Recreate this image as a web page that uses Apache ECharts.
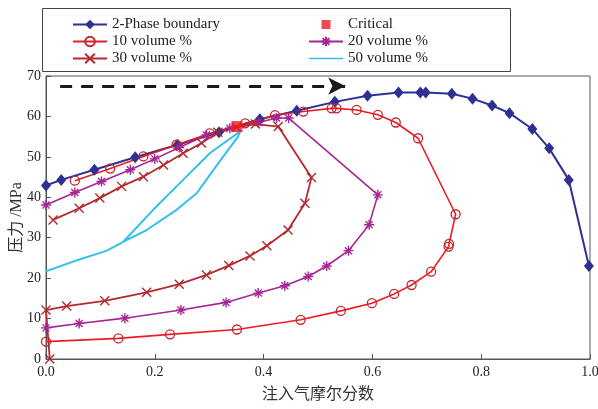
<!DOCTYPE html>
<html>
<head>
<meta charset="utf-8">
<script src="https://cdn.jsdelivr.net/npm/echarts@6/dist/echarts.min.js"></script>
<style>
  html, body { margin: 0; padding: 0; background: #fff; }
  #main { width: 598px; height: 409px; }
</style>
</head>
<body>
<div id="main"></div>
<script>
// 两相边界
var boundaryX = [0, 0.028, 0.089, 0.164, 0.242, 0.318, 0.393, 0.461, 0.531, 0.591, 0.648, 0.688, 0.698, 0.746, 0.784, 0.82, 0.852, 0.894, 0.925, 0.961, 0.998];
var boundaryY = [42.9, 44.3, 46.8, 49.9, 53.0, 56.1, 59.3, 61.4, 63.6, 65.1, 65.9, 65.9, 65.9, 65.6, 64.4, 62.7, 60.8, 56.9, 52.1, 44.3, 23.0];

// 临界点
var criticalX = [0.351];
var criticalY = [57.5];

// 10 volume %
var vol10X = [0, 0.133, 0.228, 0.351, 0.468, 0.542, 0.599, 0.64, 0.672, 0.708, 0.74, 0.741, 0.753, 0.684, 0.643, 0.61, 0.571, 0.534, 0.525, 0.473, 0.421, 0.366, 0.301, 0.24, 0.179, 0.118, 0.053];
var vol10Y = [4.3, 5.1, 6.1, 7.3, 9.7, 11.9, 13.8, 16.1, 18.3, 21.6, 27.8, 28.5, 35.8, 54.6, 58.5, 60.4, 61.6, 62.0, 62.0, 61.2, 60.3, 58.3, 55.8, 53.0, 50.1, 47.1, 44.1];

// 20 volume %
var vol20X = [0, 0.061, 0.145, 0.248, 0.331, 0.39, 0.439, 0.482, 0.516, 0.556, 0.594, 0.61, 0.446, 0.424, 0.39, 0.338, 0.295, 0.245, 0.2, 0.155, 0.102, 0.053, 0];
var vol20Y = [7.7, 8.8, 10.1, 12.1, 14.0, 16.3, 18.1, 20.4, 23.0, 26.8, 33.2, 40.6, 59.6, 59.6, 58.5, 57.1, 55.4, 52.3, 49.5, 46.8, 43.9, 41.2, 38.1];

// 30 volume %
var vol30X = [0.007, 0, 0.038, 0.108, 0.185, 0.245, 0.295, 0.336, 0.375, 0.406, 0.445, 0.476, 0.488, 0.427, 0.385, 0.35, 0.316, 0.286, 0.252, 0.216, 0.179, 0.139, 0.099, 0.061, 0.013];
var vol30Y = [0, 12.1, 13.1, 14.4, 16.5, 18.5, 20.8, 23.1, 25.5, 28.0, 31.9, 38.5, 44.9, 57.5, 58.1, 57.3, 56.1, 53.4, 50.9, 48.0, 45.1, 42.7, 39.8, 37.3, 34.4];

// 50 volume %（无标记）
var vol50X = [0, 0.05, 0.112, 0.142, 0.197, 0.252, 0.301, 0.357, 0.353, 0.326, 0.301, 0.277, 0.24, 0.185, 0.142];
var vol50Y = [21.7, 24.1, 26.8, 29.0, 36.9, 44.3, 50.9, 56.3, 55.0, 50.1, 45.5, 41.0, 36.9, 31.9, 29.0];

// 虚线箭头
var arrowX = [0.026, 0.55];
var arrowY = [67.5, 67.5];

function pairs(xs, ys) {
  var res = [];
  for (var i = 0; i < xs.length; i++) {
    res.push([xs[i], ys[i]]);
  }
  return res;
}

var serif = 'Liberation Serif';
var starPath = 'path://M0 5 L10 5 M5 0 L5 10 M1.5 1.5 L8.5 8.5 M1.5 8.5 L8.5 1.5';
var crossPath = 'path://M0 0 L10 10 M0 10 L10 0';
var squareIcon = 'path://M0 0 M1.5 1.5 L10.5 1.5 L10.5 10.5 L1.5 10.5 Z M12 12';
var lineIcon = 'path://M0 0 M0 5.2 L34 5.2 L34 6.8 L0 6.8 Z M34 12';

var legendText = { fontFamily: serif, fontSize: 15, color: '#222' };

var option = {
  animation: false,
  backgroundColor: '#fff',
  grid: {
    left: 46, right: 8, top: 76, bottom: 50,
    outerBoundsMode: 'none', containLabel: false,
    show: true, borderColor: '#555', borderWidth: 1
  },
  legend: [
    {
      orient: 'vertical', left: 72, top: 17, padding: 0,
      itemWidth: 34, itemHeight: 12, itemGap: 2,
      textStyle: legendText,
      data: ['2-Phase boundary', '10 volume %', '30 volume %']
    },
    {
      orient: 'vertical', left: 308, top: 17, padding: 0,
      itemWidth: 34, itemHeight: 12, itemGap: 2,
      textStyle: legendText,
      data: [{ name: 'Critical', icon: squareIcon }, '20 volume %', { name: '50 volume %', icon: lineIcon }]
    }
  ],
  graphic: [
    {
      type: 'rect', left: 40, top: 6, z: -1,
      shape: { width: 468, height: 63 },
      style: { fill: 'none', stroke: '#444', lineWidth: 1 }
    }
  ],
  xAxis: {
    type: 'value', min: 0, max: 1, interval: 0.2,
    name: '注入气摩尔分数', nameLocation: 'middle', nameGap: 26,
    nameTextStyle: { fontFamily: 'Noto Sans CJK SC', fontSize: 16, color: '#333' },
    axisLine: { lineStyle: { color: '#555' } },
    axisTick: { inside: true, length: 5, lineStyle: { color: '#555' } },
    splitLine: { show: false },
    axisLabel: {
      fontFamily: serif, fontSize: 14, color: '#222', margin: 6,
      formatter: function(v) { return v.toFixed(1); }
    }
  },
  yAxis: {
    type: 'value', min: 0, max: 70, interval: 10,
    name: '压力 /MPa', nameLocation: 'middle', nameGap: 21, nameMoveOverlap: false,
    nameTextStyle: { fontFamily: 'Liberation Serif, Noto Sans CJK SC', fontSize: 16, color: '#333' },
    axisLine: { show: true, lineStyle: { color: '#555' } },
    axisTick: { show: true, inside: true, length: 5, lineStyle: { color: '#555' } },
    splitLine: { show: false },
    axisLabel: { fontFamily: serif, fontSize: 14, color: '#222', margin: 5 }
  },
  series: [
    {
      name: '2-Phase boundary', type: 'line',
      data: pairs(boundaryX, boundaryY),
      symbol: 'diamond', symbolSize: [10, 12],
      lineStyle: { color: '#2e3192', width: 2 },
      itemStyle: { color: '#2e3192' }
    },
    {
      name: '10 volume %', type: 'line',
      data: pairs(vol10X, vol10Y),
      symbol: 'circle', symbolSize: 9,
      lineStyle: { color: '#ed1c24', width: 1.6 },
      itemStyle: { color: 'rgba(0,0,0,0)', borderColor: '#c1272d', borderWidth: 1.3 }
    },
    {
      name: '20 volume %', type: 'line',
      data: pairs(vol20X, vol20Y),
      symbol: starPath, symbolSize: 10,
      lineStyle: { color: '#a62694', width: 1.6 },
      itemStyle: { color: '#a62694', borderColor: '#a62694', borderWidth: 1.4 }
    },
    {
      name: '30 volume %', type: 'line',
      data: pairs(vol30X, vol30Y),
      symbol: crossPath, symbolSize: 9,
      lineStyle: { color: '#b2292e', width: 1.8 },
      itemStyle: { color: '#b2292e', borderColor: '#b2292e', borderWidth: 1.4 }
    },
    {
      name: '50 volume %', type: 'line',
      data: pairs(vol50X, vol50Y),
      showSymbol: false, symbol: 'none',
      lineStyle: { color: '#35c0ea', width: 2 },
      itemStyle: { color: '#35c0ea' }
    },
    {
      name: 'Critical', type: 'scatter',
      data: pairs(criticalX, criticalY),
      symbol: 'rect', symbolSize: 11, z: 5,
      itemStyle: { color: '#ed1c24' }
    },
    {
      name: 'arrow', type: 'line', data: [],
      markLine: {
        silent: true,
        symbol: ['none', 'arrow'],
        symbolSize: [13, 17],
        label: { show: false },
        lineStyle: { color: '#1a1a1a', width: 3, type: [12, 9] },
        data: [[{ coord: [arrowX[0], arrowY[0]] }, { coord: [arrowX[1], arrowY[1]] }]]
      }
    }
  ]
};

var chart = echarts.init(document.getElementById('main'));
chart.setOption(option);
</script>
</body>
</html>
